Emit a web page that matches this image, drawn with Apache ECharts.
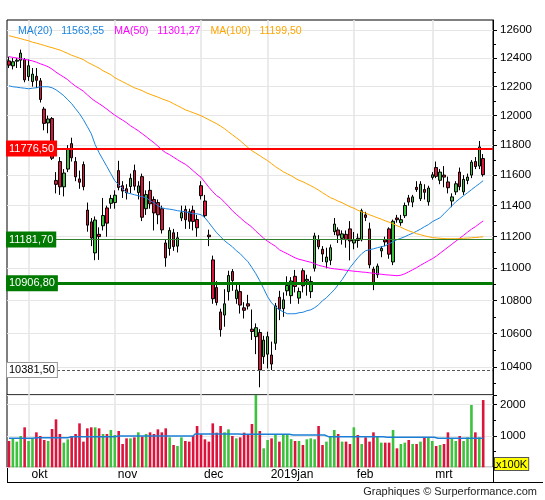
<!DOCTYPE html>
<html><head><meta charset="utf-8">
<script src="https://cdn.jsdelivr.net/npm/echarts/dist/echarts.min.js"></script>
<style>html,body{margin:0;padding:0;background:#fff}#c{width:545px;height:500px}</style>
</head><body><div id="c"></div>
<script>
const dates = [
'2018-09-24','2018-09-25','2018-09-26','2018-09-27','2018-09-28',
'2018-10-01','2018-10-02','2018-10-04','2018-10-05','2018-10-08','2018-10-09','2018-10-10','2018-10-11','2018-10-12','2018-10-15','2018-10-16','2018-10-17','2018-10-18','2018-10-19','2018-10-22','2018-10-23','2018-10-24','2018-10-25','2018-10-26','2018-10-29','2018-10-30','2018-10-31',
'2018-11-01','2018-11-02','2018-11-05','2018-11-06','2018-11-07','2018-11-08','2018-11-09','2018-11-12','2018-11-13','2018-11-14','2018-11-15','2018-11-16','2018-11-19','2018-11-20','2018-11-21','2018-11-22','2018-11-23','2018-11-26','2018-11-27','2018-11-28','2018-11-29','2018-11-30',
'2018-12-03','2018-12-04','2018-12-05','2018-12-06','2018-12-07','2018-12-10','2018-12-11','2018-12-12','2018-12-13','2018-12-14','2018-12-17','2018-12-18','2018-12-19','2018-12-20','2018-12-21','2018-12-27','2018-12-28',
'2019-01-02','2019-01-03','2019-01-04','2019-01-07','2019-01-08','2019-01-09','2019-01-10','2019-01-11','2019-01-14','2019-01-15','2019-01-16','2019-01-17','2019-01-18','2019-01-21','2019-01-22','2019-01-23','2019-01-24','2019-01-25','2019-01-28','2019-01-29','2019-01-30','2019-01-31',
'2019-02-01','2019-02-04','2019-02-05','2019-02-06','2019-02-07','2019-02-08','2019-02-11','2019-02-12','2019-02-13','2019-02-14','2019-02-15','2019-02-18','2019-02-19','2019-02-20','2019-02-21','2019-02-22','2019-02-25','2019-02-26','2019-02-27','2019-02-28',
'2019-03-01','2019-03-04','2019-03-05','2019-03-06','2019-03-07','2019-03-08','2019-03-11','2019-03-12','2019-03-13','2019-03-14','2019-03-15','2019-03-18','2019-03-19','2019-03-20'
];
const opens = [12380,12345,12378,12385,12390,12270,12235,12272,12240,12045,
11950,11980,11565,11690,11523,11640,11810,11690,11575,11670,
11371,11295,11097,11215,11270,11385,11415,11420,11630,11530,
11510,11525,11630,11485,11590,11380,11500,11440,11420,11380,
11160,11125,11225,11140,11320,11375,11360,11370,11310,11530,
11430,11210,11053,10880,10730,10711,10855,10980,10812,10855,
10755,10780,10625,10580,10605,10460,10475,10470,10540,10820,
10750,10860,10830,10950,10815,10985,10920,10855,11000,11180,
11120,11040,11050,11232,11243,11190,11215,11250,11160,11190,
11180,11340,11250,10995,10960,11110,11180,11250,11040,11320,
11290,11335,11450,11423,11520,11445,11505,11425,11585,11650,
11566,11600,11555,11430,11490,11620,11490,11565,11600,11690,
11660,11710];
const highs = [12410,12400,12400,12460,12400,12390,12330,12330,12260,12060,
12000,11990,11620,11720,11640,11800,11850,11720,11630,11690,
11420,11320,11330,11260,11450,11400,11470,11500,11695,11560,
11540,11610,11670,11560,11610,11500,11560,11460,11440,11400,
11180,11260,11250,11230,11400,11400,11380,11400,11340,11560,
11470,11245,11080,10920,10750,10870,10985,10995,10900,10900,
10790,10835,10745,10660,10625,10585,10610,10550,10785,10860,
10850,10950,10945,10990,10880,11000,10960,10950,11225,11210,
11140,11130,11150,11320,11260,11240,11240,11300,11230,11220,
11380,11360,11290,11010,11030,11140,11200,11260,11310,11340,
11340,11420,11470,11470,11560,11560,11540,11530,11620,11690,
11640,11660,11590,11480,11560,11650,11600,11610,11700,11720,
11828,11740];
const lows = [12330,12320,12330,12330,12230,12240,12200,12190,12090,11900,
11880,11700,11480,11470,11460,11620,11690,11560,11510,11500,
11232,11140,11051,11053,11240,11200,11380,11380,11500,11450,
11440,11480,11500,11440,11300,11340,11380,11240,11280,11220,
11010,11080,11110,11100,11300,11250,11250,11240,11200,11440,
11320,11140,10780,10770,10580,10640,10800,10860,10780,10720,
10690,10745,10560,10475,10279,10417,10390,10380,10500,10680,
10700,10830,10780,10850,10780,10850,10830,10815,10980,11120,
11040,11000,11020,11210,11160,11150,11130,11050,11120,11130,
11170,11300,11000,10864,10940,11070,11140,11060,11020,11290,
11270,11320,11400,11390,11490,11430,11440,11400,11570,11580,
11540,11520,11480,11390,11470,11500,11470,11540,11580,11640,
11640,11590];
const closes = [12350,12374,12385,12435,12247,12346,12287,12244,12111,11947,
11977,11712,11539,11523,11614,11776,11715,11589,11553,11524,
11274,11191,11307,11201,11336,11287,11447,11468,11519,11495,
11484,11579,11527,11529,11325,11472,11412,11353,11341,11244,
11066,11240,11137,11193,11354,11309,11299,11298,11257,11465,
11335,11200,10811,10788,10622,10780,10955,10924,10865,10772,
10740,10766,10611,10634,10381,10559,10580,10416,10767,10747,
10804,10893,10921,10887,10856,10891,10931,10918,11205,11136,
11090,11071,11130,11281,11210,11218,11181,11173,11180,11176,
11367,11324,11022,10907,11014,11126,11167,11089,11299,11309,
11309,11401,11423,11457,11505,11540,11487,11515,11602,11592,
11620,11587,11517,11457,11543,11524,11572,11587,11686,11657,
11788,11603];
const volumes = [840,925,820,1000,1277,840,925,1117,1000,872,
840,1224,1532,1064,787,894,1000,1064,1404,820,
1245,1277,1277,1245,1064,1064,1192,1032,1160,745,
925,925,957,1117,979,1064,1117,1064,1213,1117,
1245,957,713,681,957,840,820,1000,1319,1053,
894,820,1404,1106,1319,1117,1213,1000,925,957,
1106,1064,1383,2320,1160,606,872,925,1032,820,
1064,1032,900,840,840,713,894,925,894,1319,
713,820,1000,1192,1064,820,820,745,1277,1032,
745,957,820,1117,979,787,787,787,1192,606,
745,787,872,745,745,820,957,957,840,681,
713,745,1117,925,840,1000,840,957,1990,1117,
957,2149];
const volumeAvg = [925,925,925,925,925,925,925,947,947,947,
947,947,947,947,947,947,979,979,979,979,
979,979,979,979,979,979,979,979,1000,1000,
1000,1000,1000,1000,1000,1000,1000,1000,1000,1000,
1000,1000,1000,1000,1000,1000,1000,1000,1064,1064,
1064,1064,1064,1064,1064,1064,1064,1064,1064,1053,
1053,1053,1053,1053,1053,1053,1053,1053,1053,1053,
1053,1053,1032,1032,1032,1032,1032,1032,1032,1032,
1032,979,979,979,979,979,979,979,979,979,
979,979,979,979,979,979,957,957,957,957,
957,957,957,957,957,957,957,957,957,925,
925,925,925,925,925,925,925,925,925,925,
925,925];
const ma20 = [12206,12199,12196,12192,12189,12185,12189,12192,12199,12199,
12199,12192,12178,12158,12137,12109,12082,12047,12013,11972,
11925,11877,11803,11749,11702,11656,11609,11563,11537,11511,
11484,11478,11471,11465,11458,11452,11432,11419,11399,11386,
11380,11377,11373,11367,11364,11360,11354,11347,11347,11341,
11322,11290,11257,11225,11200,11174,11155,11136,11111,11092,
11066,11041,11004,10966,10922,10873,10823,10786,10761,10743,
10731,10719,10719,10719,10725,10728,10737,10743,10756,10774,
10799,10817,10842,10866,10898,10929,10966,11004,11035,11066,
11092,11111,11117,11123,11130,11136,11142,11155,11168,11181,
11190,11200,11212,11222,11235,11248,11264,11277,11296,11309,
11322,11347,11373,11399,11425,11445,11465,11484,11504,11524,
11543,11563.55];
const ma50 = [12410,12405,12401,12396,12391,12386,12380,12371,12360,12350,
12339,12322,12301,12283,12266,12248,12224,12203,12186,12168,
12143,12119,12099,12082,12064,12044,12023,12003,11986,11969,
11952,11931,11914,11897,11877,11857,11836,11816,11793,11769,
11749,11736,11719,11702,11686,11672,11652,11629,11606,11586,
11553,11520,11491,11465,11448,11422,11396,11367,11344,11322,
11299,11280,11261,11235,11213,11190,11171,11155,11139,11117,
11104,11092,11079,11066,11057,11051,11044,11038,11029,11019,
11013,11007,11000,10997,10994,10991,10988,10985,10982,10980,
10977,10975,10972,10969,10966,10963,10960,10958,10956,10954,
10957,10966,10978,10991,11004,11019,11033,11047,11060,11076,
11095,11114,11133,11152,11171,11190,11209,11229,11248,11264,
11283,11301.27];
const ma100 = [12559,12552,12545,12538,12530,12523,12513,12506,12498,12490,
12481,12474,12465,12457,12445,12433,12420,12410,12400,12389,
12371,12357,12343,12329,12311,12297,12283,12262,12248,12234,
12220,12206,12192,12182,12172,12158,12147,12137,12127,12116,
12106,12096,12082,12068,12054,12040,12030,12020,12010,11999,
11986,11972,11958,11945,11928,11911,11890,11870,11850,11830,
11806,11783,11762,11746,11729,11712,11696,11676,11656,11639,
11622,11609,11596,11580,11566,11556,11543,11530,11517,11501,
11484,11468,11452,11442,11429,11419,11406,11393,11383,11370,
11360,11351,11341,11331,11322,11312,11302,11293,11283,11270,
11261,11248,11238,11229,11219,11213,11206,11200,11195,11192,
11190,11188,11187,11187,11187,11188,11190,11191,11193,11195,
11197,11199.50];
const priceTicks = [10400,10600,10800,11000,11200,11400,11600,11800,12000,12200,12400,12600];
const priceMinorTicks = [10300,10500,10700,10900,11100,11300,11500,11700,11900,12100,12300,12500];
const priceRange = [10234, 12672];
const volumeRange = [0, 2310];
const monthLabels = {'2018-10-01':'okt','2018-11-01':'nov','2018-12-03':'dec','2019-01-02':'2019jan','2019-02-01':'feb','2019-03-01':'mrt'};
const levels = [11776.5, 11181.7, 10906.8, 10381.5];

const L = Math.log;
const GREEN = '#3cc23c', RED = '#dc143c';
const C20 = '#1a84e0', C50 = '#ff00ff', C100 = '#ffa500';
const FONT = 'Liberation Sans';
const fmt = v => v.toFixed(2).replace('.', ',');
const cats = dates.concat([' ', '  ']);
const monthIdx = new Set(dates.map((d, i) => monthLabels[d] ? i : -1).filter(i => i >= 0));
const monthInterval = (i) => monthIdx.has(i);

const levelStyles = [
  {line: {color: '#ff0000', width: 2, type: 'solid'}, bg: '#ff0000', fg: '#fff', border: '#ff0000'},
  {line: {color: '#2f7f2f', width: 1, type: 'solid'}, bg: '#007a00', fg: '#fff', border: '#007a00'},
  {line: {color: '#007a00', width: 3, type: 'solid'}, bg: '#007a00', fg: '#fff', border: '#007a00'},
  {line: {color: '#555', width: 1, type: [3, 2]}, bg: '#fff', fg: '#000', border: '#999'}
];

const chart = echarts.init(document.getElementById('c'));
const lastVal = {'MA(20)': ma20[ma20.length-1], 'MA(50)': ma50[ma50.length-1], 'MA(100)': ma100[ma100.length-1]};

const gridL = 7, gridW = 486;
chart.setOption({
  animation: false,
  backgroundColor: '#fff',
  textStyle: {fontFamily: FONT},
  grid: [
    {left: gridL, top: 20, width: gridW, height: 375, show: true, borderColor: '#000', borderWidth: 1, backgroundColor: 'transparent'},
    {left: gridL, top: 395, width: gridW, height: 72.3, show: true, borderColor: '#000', borderWidth: 1, backgroundColor: 'transparent'}
  ],
  legend: {
    left: 8, top: 21, itemWidth: 0, itemHeight: 0, itemGap: 5, icon: 'rect', selectedMode: false,
    textStyle: {fontFamily: FONT, fontSize: 10.5},
    data: [
      {name: 'MA(20)', textStyle: {color: C20}},
      {name: 'MA(50)', textStyle: {color: C50}},
      {name: 'MA(100)', textStyle: {color: C100}}
    ],
    formatter: n => n + '   ' + fmt(lastVal[n])
  },
  xAxis: [
    {type: 'category', gridIndex: 0, data: cats, boundaryGap: true,
     axisLine: {show: false}, axisTick: {show: false}, axisLabel: {show: false},
     splitLine: {show: true, interval: monthInterval, alignWithLabel: true, lineStyle: {color: '#e4e4e4', width: 1.5}}},
    {type: 'category', gridIndex: 1, data: cats, boundaryGap: true,
     axisLine: {show: false}, axisTick: {show: false},
     axisLabel: {show: true, interval: monthInterval, formatter: v => monthLabels[v] || '', align: 'left', padding: [0, 0, 0, 3], margin: 1, color: '#000', fontSize: 12, fontFamily: FONT},
     splitLine: {show: true, interval: monthInterval, alignWithLabel: true, lineStyle: {color: '#e4e4e4', width: 1.5}}}
  ],
  yAxis: [
    {type: 'value', gridIndex: 0, position: 'right', min: L(priceRange[0]), max: L(priceRange[1]), scale: true,
     axisLine: {show: true, lineStyle: {color: '#000'}},
     axisTick: {show: true, length: 4, customValues: priceTicks.map(L), lineStyle: {color: '#000'}},
     axisLabel: {show: true, customValues: priceTicks.map(L), formatter: v => String(Math.round(Math.exp(v))), margin: 7, color: '#000', fontSize: 11.5, fontFamily: FONT},
     splitLine: {show: true, lineStyle: {color: '#e6e6e6', width: 1}}},
    {type: 'value', gridIndex: 0, position: 'right', min: L(priceRange[0]), max: L(priceRange[1]), scale: true,
     axisLine: {show: false},
     axisTick: {show: true, length: 3, customValues: priceMinorTicks.map(L), lineStyle: {color: '#000'}},
     axisLabel: {show: false}, splitLine: {show: false}},
    {type: 'value', gridIndex: 1, position: 'right', min: volumeRange[0], max: volumeRange[1], interval: 1000,
     axisLine: {show: true, lineStyle: {color: '#000'}},
     axisTick: {show: true, length: 4, lineStyle: {color: '#000'}},
     minorTick: {show: true, splitNumber: 2, length: 3, lineStyle: {color: '#000'}},
     axisLabel: {show: true, formatter: v => (v > 0 && v % 1000 === 0) ? String(v) : '', margin: 7, color: '#000', fontSize: 11.5, fontFamily: FONT},
     splitLine: {show: true, lineStyle: {color: '#e6e6e6'}}}
  ],
  series: [
    {type: 'candlestick', name: 'price', xAxisIndex: 0, yAxisIndex: 0, barWidth: 3, z: 3,
     data: dates.map((d, i) => [L(opens[i]), L(closes[i]), L(lows[i]), L(highs[i])]),
     itemStyle: {color: GREEN, color0: RED, borderColor: '#000', borderColor0: '#000', borderColorDoji: '#000', borderWidth: 1},
     markLine: {
       silent: true, symbol: ['none', 'none'], animation: false, precision: 10,
       data: levels.map((v, k) => ({
         yAxis: L(v),
         lineStyle: levelStyles[k].line,
         label: {show: true, position: 'insideStart', distance: [0, 0], formatter: fmt(v), color: levelStyles[k].fg,
                 backgroundColor: levelStyles[k].bg, borderColor: levelStyles[k].border, borderWidth: 1,
                 padding: [1, 2, 0, 2], fontSize: 11, fontFamily: FONT, lineHeight: 13}
       }))
     }},
    {type: 'line', name: 'MA(20)', xAxisIndex: 0, yAxisIndex: 0, data: ma20.map(L), showSymbol: false, symbol: 'none', z: 4,
     lineStyle: {color: C20, width: 1}, itemStyle: {color: C20}},
    {type: 'line', name: 'MA(50)', xAxisIndex: 0, yAxisIndex: 0, data: ma50.map(L), showSymbol: false, symbol: 'none', z: 4,
     lineStyle: {color: C50, width: 1}, itemStyle: {color: C50}},
    {type: 'line', name: 'MA(100)', xAxisIndex: 0, yAxisIndex: 0, data: ma100.map(L), showSymbol: false, symbol: 'none', z: 4,
     lineStyle: {color: C100, width: 1}, itemStyle: {color: C100}},
    {type: 'bar', name: 'volume', xAxisIndex: 1, yAxisIndex: 2, barWidth: 2.6,
     data: volumes.map((v, i) => ({value: v, itemStyle: {color: closes[i] >= opens[i] ? GREEN : RED}}))},
    {type: 'line', name: 'volavg', xAxisIndex: 1, yAxisIndex: 2, data: volumeAvg, step: 'middle', showSymbol: false, symbol: 'none', z: 4,
     lineStyle: {color: '#1a7fd4', width: 1.5}}
  ],
  graphic: [
    {type: 'line', shape: {x1: 7.5, y1: 467, x2: 7.5, y2: 482.5}, style: {stroke: '#000', lineWidth: 1}},
    {type: 'line', shape: {x1: 493.5, y1: 467, x2: 493.5, y2: 482.5}, style: {stroke: '#000', lineWidth: 1}},
    {type: 'line', shape: {x1: 7, y1: 482.5, x2: 543, y2: 482.5}, style: {stroke: '#000', lineWidth: 1}},
    {type: 'text', left: 494, top: 457, style: {text: 'x100K', fill: '#000', font: '11px "Liberation Sans"', backgroundColor: '#ffff00', borderColor: '#555', borderWidth: 1, padding: [1, 1, 0, 1]}},
    {type: 'text', right: 8, top: 486, style: {text: 'Graphiques © Surperformance.com', fill: '#222', font: '11px "Liberation Sans"'}}
  ]
});
</script></body></html>
